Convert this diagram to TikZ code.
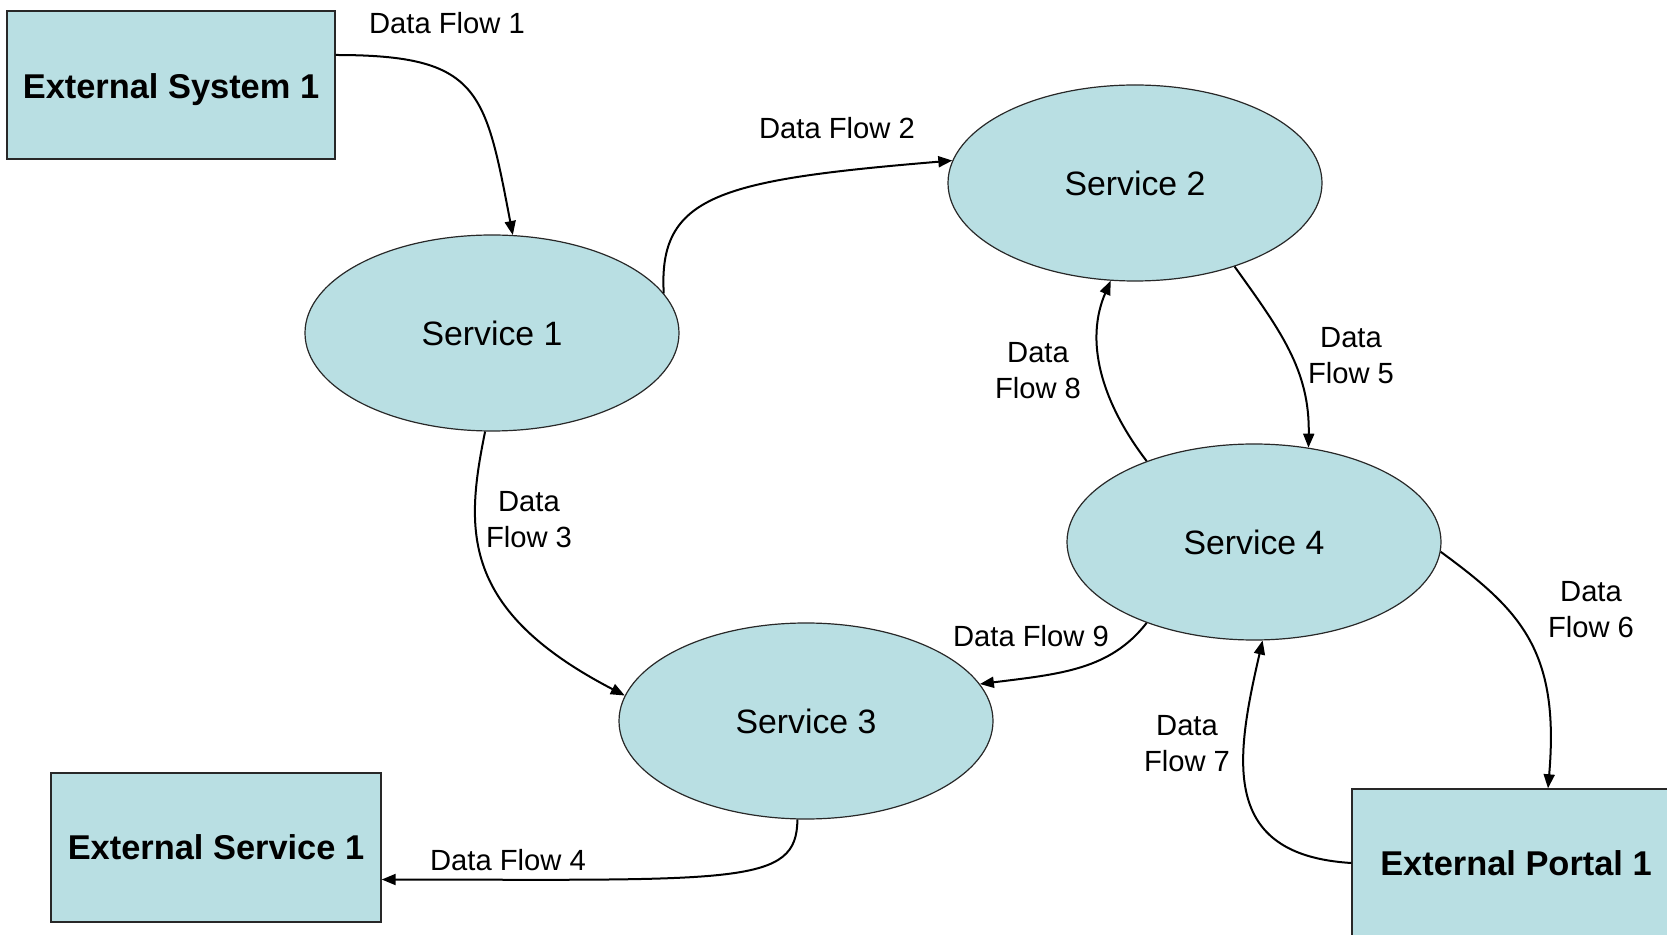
\documentclass[tikz,border=0pt]{standalone}
\usepackage{fontspec}
\setmainfont{Liberation Sans}
\usetikzlibrary{arrows.meta,shapes.geometric}
\definecolor{fillblue}{RGB}{185,223,227}
\definecolor{edgegray}{RGB}{40,40,40}
\begin{document}
\begin{tikzpicture}[x=0.5pt,y=-0.5pt,
  extbox/.style={draw=edgegray, line width=0.7pt, fill=fillblue, rectangle, inner sep=0pt,
    minimum width=164pt, minimum height=74pt, font=\fontsize{17.2}{20}\selectfont\bfseries},
  svc/.style={draw=edgegray, line width=0.6pt, fill=fillblue, ellipse, minimum width=187pt,
    minimum height=98pt, inner sep=0pt, font=\fontsize{16.9}{20}\selectfont},
  flow/.style={line width=1pt, -{Triangle[length=7pt,width=5.5pt]}},
  lbl/.style={align=center, inner sep=0pt, font=\fontsize{14.6}{18}\selectfont}]
\useasboundingbox (0,0) rectangle (1667,935);
\clip (0,0) rectangle (1667,935);

% nodes
\node[extbox] (es1) at (171,85) {\raisebox{-2.5pt}[\height][\depth]{External System 1}};
\node[extbox, minimum width=165pt, minimum height=74.5pt] (esv) at (216,847.5) {External Service 1};
\node[extbox] (epo) at (1516,863) {External Portal 1};

\node[svc] (s1) at (492,333) {Service 1};
\node[svc] (s2) at (1135,183) {Service 2};
\node[svc] (s3) at (806,721) {Service 3};
\node[svc] (s4) at (1254,542) {Service 4};

% connectors
\draw[flow] ([yshift=15pt]es1.east) .. controls (480,55) and (485,90) .. (s1.78);
\draw[flow] (s1.13.5) .. controls (658,195) and (720,180) .. (s2.173.5);
\draw[flow] (s1.-94) .. controls (465,530) and (460,610) .. (s3.172.4);
\draw[flow] (s3.-95) .. controls (797,885) and (740,880) .. ([yshift=-16pt]esv.east);
\draw[flow] (s2.-40) .. controls (1280,330) and (1310,370) .. (s4.60);
\draw[flow] (s4.-3) .. controls (1520,610) and (1560,650) .. ([xshift=16pt]epo.north);
\draw[flow] (epo.west) .. controls (1220,855) and (1235,760) .. (s4.-85);
\draw[flow] (s4.143) .. controls (1100,400) and (1085,340) .. (s2.-104);
\draw[flow] (s4.-143) .. controls (1110,670) and (1060,674) .. (s3.12);

% labels
\node[lbl] (l1) at (447,23) {Data Flow 1};
\node[lbl] (l2) at (837,128) {Data Flow 2};
\node[lbl] (l3) at (529,520) {Data\\Flow 3};
\node[lbl] (l4) at (508,860) {Data Flow 4};
\node[lbl] (l5) at (1351,356) {Data\\Flow 5};
\node[lbl] (l6) at (1591,610) {Data\\Flow 6};
\node[lbl] (l7) at (1187,744) {Data\\Flow 7};
\node[lbl] (l8) at (1038,371) {Data\\Flow 8};
\node[lbl] (l9) at (1031,636) {Data Flow 9};
\end{tikzpicture}
\end{document}
